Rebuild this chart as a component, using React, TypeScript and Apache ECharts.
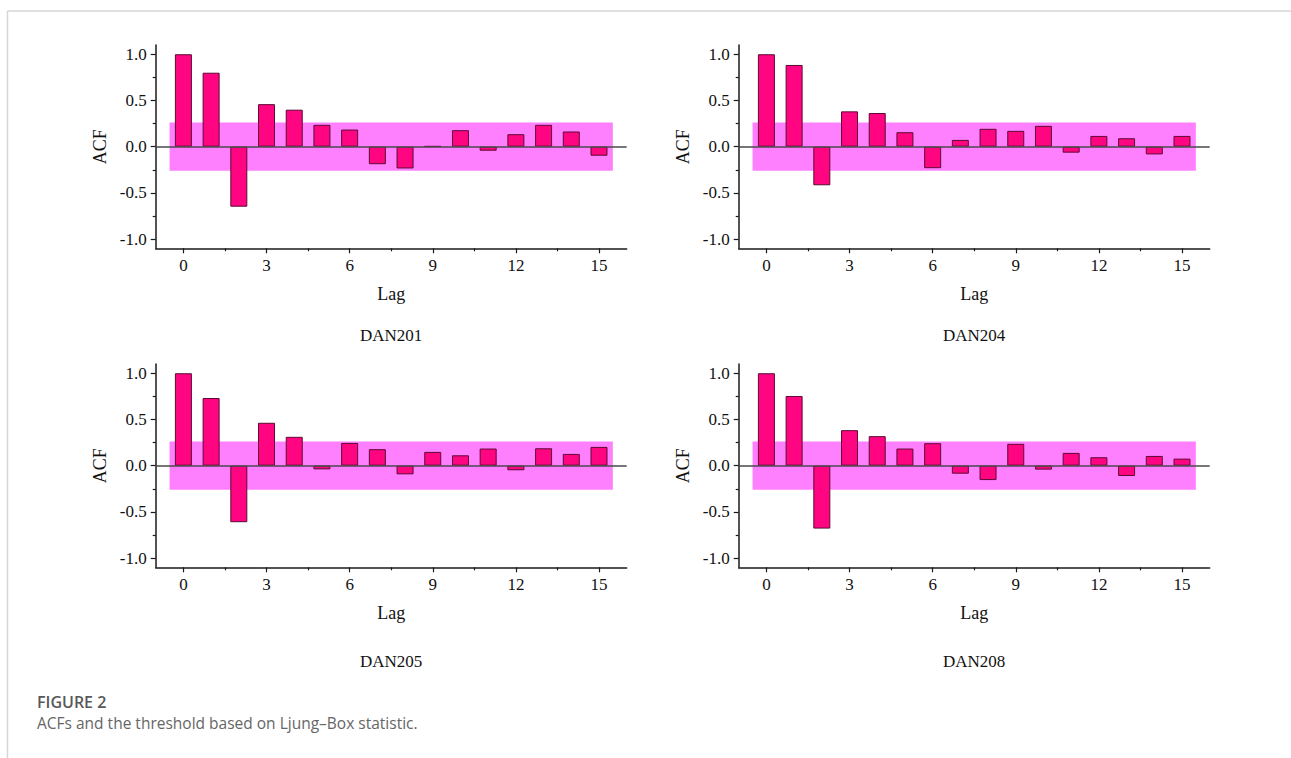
import React, { useEffect, useRef } from "react";
import * as echarts from "echarts";

// Lags shown on every panel
const LAGS = [0, 1, 2, 3, 4, 5, 6, 7, 8, 9, 10, 11, 12, 13, 14, 15];

// Autocorrelation values per series
const DAN201 = [1.0, 0.8, -0.65, 0.46, 0.4, 0.236, 0.185, -0.19, -0.236, 0.005, 0.178, -0.044, 0.135, 0.236, 0.164, -0.098];
const DAN204 = [1.0, 0.884, -0.418, 0.382, 0.364, 0.156, -0.233, 0.073, 0.193, 0.171, 0.225, -0.065, 0.116, 0.091, -0.084, 0.116];
const DAN205 = [1.0, 0.732, -0.612, 0.464, 0.312, -0.04, 0.246, 0.178, -0.094, 0.149, 0.112, 0.185, -0.05, 0.188, 0.127, 0.203];
const DAN208 = [1.0, 0.754, -0.681, 0.384, 0.319, 0.185, 0.243, -0.087, -0.156, 0.236, -0.043, 0.138, 0.091, -0.112, 0.105, 0.076];

const PANEL_NAMES = ["DAN201", "DAN204", "DAN205", "DAN208"];
const PANEL_VALUES = [DAN201, DAN204, DAN205, DAN208];

// Ljung-Box significance threshold (band drawn at +/- this value)
const THRESHOLD = 0.26;

// Axis ticks
const X_TICKS = [0, 3, 6, 9, 12, 15];
const X_MINOR = [1.5, 4.5, 7.5, 10.5, 13.5];
const Y_TICKS = [-1, -0.5, 0, 0.5, 1];
const Y_MINOR = [-0.75, -0.25, 0.25, 0.75];

const SERIF = "'Liberation Serif', 'Times New Roman', serif";
const SANS = "'Open Sans', 'Noto Sans', sans-serif";

const GRID_LEFT = [155.7, 738.7];
const GRID_TOP = [45, 364];
const GRID_W = 471;
const GRID_H = 203.3;

export default function App() {
  const ref = useRef<HTMLDivElement>(null);

  useEffect(() => {
    if (!ref.current) return;
    const chart = echarts.init(ref.current, undefined, { renderer: "svg" });

    const grids: any[] = [];
    const xAxes: any[] = [];
    const yAxes: any[] = [];
    const series: any[] = [];
    const graphics: any[] = [];

    PANEL_NAMES.forEach((name, i) => {
      const col = i % 2;
      const row = Math.floor(i / 2);
      const left = GRID_LEFT[col];
      const top = GRID_TOP[row];
      grids.push({ left, top, width: GRID_W, height: GRID_H, containLabel: false });

      const axisLine = { show: true, onZero: false, lineStyle: { color: "#1a1a1a", width: 1.5 } };

      // main x axis with labels and major ticks
      xAxes.push({
        type: "value",
        gridIndex: i,
        min: -1,
        max: 16,
        position: "bottom",
        axisLine,
        splitLine: { show: false },
        axisTick: { show: true, customValues: X_TICKS, length: 5, lineStyle: { color: "#1a1a1a", width: 1.2 } },
        axisLabel: {
          customValues: X_TICKS,
          fontFamily: SERIF,
          fontSize: 17,
          color: "#111111",
          margin: 9,
        },
        name: "Lag",
        nameLocation: "middle",
        nameGap: 37,
        nameTextStyle: { fontFamily: SERIF, fontSize: 18, color: "#111111" },
      });
      // minor x ticks
      xAxes.push({
        type: "value",
        gridIndex: i,
        min: -1,
        max: 16,
        position: "bottom",
        offset: 0,
        axisLine: { show: false, onZero: false },
        splitLine: { show: false },
        axisTick: { show: true, customValues: X_MINOR, length: 3, lineStyle: { color: "#1a1a1a", width: 1.2 } },
        axisLabel: { show: false },
      });

      yAxes.push({
        type: "value",
        gridIndex: i,
        min: -1.1,
        max: 1.1,
        position: "left",
        axisLine,
        splitLine: { show: false },
        axisTick: { show: true, customValues: Y_TICKS, length: 5, lineStyle: { color: "#1a1a1a", width: 1.2 } },
        axisLabel: {
          customValues: Y_TICKS,
          formatter: (v: number) => v.toFixed(1),
          fontFamily: SERIF,
          fontSize: 17,
          color: "#111111",
          margin: 9,
        },
        name: "ACF",
        nameLocation: "middle",
        nameGap: 47,
        nameTextStyle: { fontFamily: SERIF, fontSize: 18, color: "#111111" },
      });
      yAxes.push({
        type: "value",
        gridIndex: i,
        min: -1.1,
        max: 1.1,
        position: "left",
        offset: 0,
        axisLine: { show: false, onZero: false },
        splitLine: { show: false },
        axisTick: { show: true, customValues: Y_MINOR, length: 3, lineStyle: { color: "#1a1a1a", width: 1.2 } },
        axisLabel: { show: false },
      });

      // threshold band and zero line
      series.push({
        type: "line",
        xAxisIndex: 2 * i,
        yAxisIndex: 2 * i,
        data: [],
        silent: true,
        z: 1,
        markArea: {
          silent: true,
          itemStyle: { color: "#FF80FF", opacity: 1 },
          data: [[{ coord: [-0.5, THRESHOLD] }, { coord: [15.5, -THRESHOLD] }]],
        },
        markLine: {
          silent: true,
          symbol: ["none", "none"],
          label: { show: false },
          lineStyle: { color: "#4a4a4a", width: 1.5, type: "solid" },
          data: [[{ coord: [-1, 0] }, { coord: [16, 0] }]],
        },
      });

      series.push({
        type: "bar",
        name,
        xAxisIndex: 2 * i,
        yAxisIndex: 2 * i,
        barWidth: 17,
        z: 3,
        itemStyle: { color: "#FF0582", borderColor: "#5c0a33", borderWidth: 1 },
        data: LAGS.map((lag, k) => [lag, PANEL_VALUES[i][k]]),
      });

      graphics.push({
        type: "text",
        x: left + GRID_W / 2,
        y: row === 0 ? 335 : 661,
        style: {
          text: name,
          fontFamily: SERIF,
          fontSize: 17,
          fill: "#111111",
          textAlign: "center",
          textVerticalAlign: "middle",
        },
      });
    });

    // frame lines and figure caption
    graphics.push(
      { type: "line", shape: { x1: 7.5, y1: 11, x2: 1291, y2: 11 }, style: { stroke: "#d6d6d6", lineWidth: 1.5 } },
      { type: "line", shape: { x1: 7.5, y1: 11, x2: 7.5, y2: 758 }, style: { stroke: "#d6d6d6", lineWidth: 1.5 } },
      {
        type: "text",
        x: 37,
        y: 702,
        style: {
          text: "FIGURE 2",
          fontFamily: SANS,
          fontSize: 16,
          lineHeight: 16,
          fontWeight: 600,
          fill: "#585858",
          textVerticalAlign: "middle",
        },
      },
      {
        type: "text",
        x: 37,
        y: 723,
        style: {
          text: "ACFs and the threshold based on Ljung\u2013Box statistic.",
          fontFamily: SANS,
          fontSize: 15.5,
          lineHeight: 16,
          fill: "#666666",
          textVerticalAlign: "middle",
        },
      }
    );

    chart.setOption({
      animation: false,
      backgroundColor: "#ffffff",
      grid: grids,
      xAxis: xAxes,
      yAxis: yAxes,
      series,
      graphic: graphics,
    });

    return () => chart.dispose();
  }, []);

  return (
    <div
      ref={ref}
      style={{ position: "absolute", left: 0, top: 0, width: 1291, height: 758 }}
    />
  );
}
